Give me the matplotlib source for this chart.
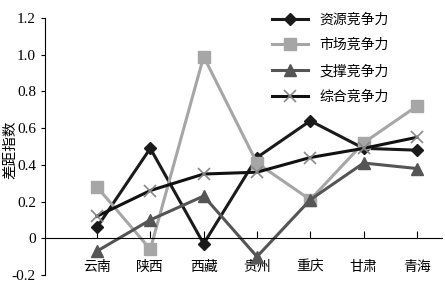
import matplotlib
matplotlib.use('Agg')
from matplotlib import pyplot as plt

plt.rcParams['font.family'] = ['Liberation Serif', 'Noto Sans CJK SC']

provinces = ['云南', '陕西', '西藏', '贵州', '重庆', '甘肃', '青海']
resource = [0.06, 0.49, -0.03, 0.44, 0.64, 0.49, 0.48]
market = [0.28, -0.06, 0.99, 0.41, 0.21, 0.52, 0.72]
support = [-0.07, 0.10, 0.23, -0.10, 0.21, 0.41, 0.38]
overall = [0.12, 0.26, 0.35, 0.36, 0.44, 0.49, 0.55]
names = ['资源竞争力', '市场竞争力', '支撑竞争力', '综合竞争力']

x = list(range(len(provinces)))

fig = plt.figure(figsize=(4.45, 3.01), dpi=100)
ax = fig.add_axes([45 / 445, 1 - 275 / 301, (442 - 45) / 445, (275 - 18) / 301])

ax.plot(x, resource, c='#1a1a1a', lw=2.2, marker='D', ms=6, label=names[0])
ax.plot(x, market, c='#a6a6a6', lw=2.2, marker='s', ms=8, label=names[1])
ax.plot(x, support, c='#555555', lw=2.2, marker='^', ms=8, label=names[2])
ax.plot(x, overall, c='#111111', lw=2.2, marker='x', ms=9, mec='#888888', mew=1.2, label=names[3])

ax.set_xlim(-0.975, 6.47)
ax.set_ylim(-0.2, 1.2)
ax.set_yticks([-0.2, 0, 0.2, 0.4, 0.6, 0.8, 1.0, 1.2])
ax.set_yticklabels(['-0.2', '0', '0.2', '0.4', '0.6', '0.8', '1.0', '1.2'])
ax.set_xticks(x)
ax.set_xticklabels(provinces, family=['Noto Sans CJK SC'], fontsize=9.5, color='#222222')

ax.spines['top'].set_visible(False)
ax.spines['right'].set_visible(False)
ax.spines['bottom'].set_position(('data', 0))
ax.tick_params(axis='x', direction='in', length=5, pad=16)
ax.tick_params(axis='y', direction='out', length=3, labelsize=11)

ax.set_ylabel('差距指数', family=['Noto Sans CJK SC'], fontsize=10.5)
ax.yaxis.set_label_coords(-0.07, 0.486)

ax.legend(loc='upper left', bbox_to_anchor=(0.54, 1.07), frameon=False, handlelength=2.6,
          labelspacing=0.85, prop={'family': 'Noto Sans CJK SC', 'size': 10})

fig.savefig('out.png', dpi=100)
